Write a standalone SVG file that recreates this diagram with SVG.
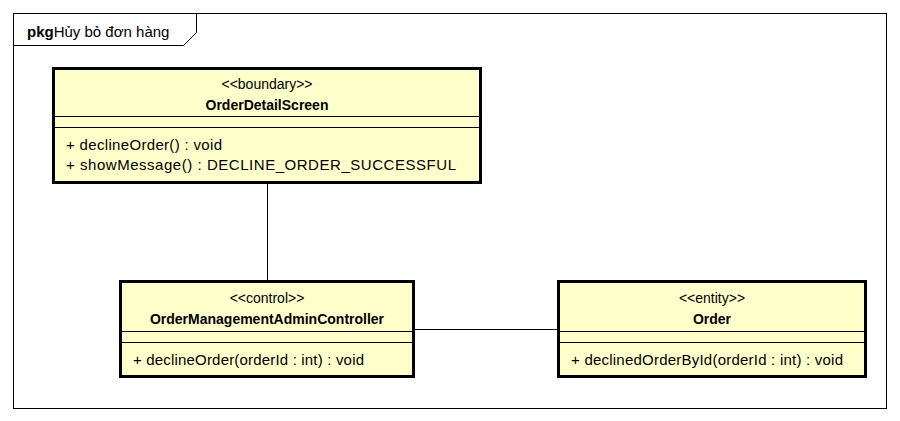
<svg xmlns="http://www.w3.org/2000/svg" width="900" height="421" viewBox="0 0 900 421">
<style>
text{font-family:"Liberation Sans",Arial,sans-serif;font-size:14px;fill:#000}
.b{font-weight:bold}
.m{text-anchor:middle}
.op{font-size:15px}
.box{fill:#FFFFCC;stroke:#000;stroke-width:3}
.sep{stroke:#000;stroke-width:1}
.ln{stroke:#000;stroke-width:1;fill:none}
</style>
<rect x="0" y="0" width="900" height="421" fill="#fff"/>
<g id="frame">
<rect x="13.5" y="13.5" width="873" height="395" fill="none" stroke="#000" stroke-width="1"/>
<path d="M13.5,45.5 H183.5 L196.5,32.5 V13.5" class="ln"/>
<text x="27" y="37" style="font-size:15px"><tspan class="b">pkg</tspan><tspan>Hủy bỏ đơn hàng</tspan></text>
</g>
<g id="connectors">
<line x1="267.5" y1="183" x2="267.5" y2="281" class="ln"/>
<line x1="414" y1="329.5" x2="558" y2="329.5" class="ln"/>
</g>
<g id="OrderDetailScreen">
<rect x="53.5" y="68.5" width="427" height="114" class="box"/>
<text x="267" y="89" class="m">&lt;&lt;boundary&gt;&gt;</text>
<text x="267" y="110" class="m b">OrderDetailScreen</text>
<line x1="53" y1="116.5" x2="481" y2="116.5" class="sep"/>
<line x1="53" y1="127.5" x2="481" y2="127.5" class="sep"/>
<text x="66" y="150" class="op" textLength="156" lengthAdjust="spacing">+ declineOrder() : void</text>
<text x="66" y="170" class="op" textLength="390" lengthAdjust="spacing">+ showMessage() : DECLINE_ORDER_SUCCESSFUL</text>
</g>
<g id="OrderManagementAdminController">
<rect x="120.5" y="281.5" width="293" height="95" class="box"/>
<text x="267" y="303" class="m">&lt;&lt;control&gt;&gt;</text>
<text x="267" y="324" class="m b">OrderManagementAdminController</text>
<line x1="120" y1="331.5" x2="414" y2="331.5" class="sep"/>
<line x1="120" y1="342.5" x2="414" y2="342.5" class="sep"/>
<text x="133" y="365" class="op" textLength="231" lengthAdjust="spacing">+ declineOrder(orderId : int) : void</text>
</g>
<g id="Order">
<rect x="558.5" y="281.5" width="307" height="95" class="box"/>
<text x="712" y="303" class="m">&lt;&lt;entity&gt;&gt;</text>
<text x="712" y="324" class="m b">Order</text>
<line x1="558" y1="331.5" x2="866" y2="331.5" class="sep"/>
<line x1="558" y1="342.5" x2="866" y2="342.5" class="sep"/>
<text x="571" y="365" class="op" textLength="272" lengthAdjust="spacing">+ declinedOrderById(orderId : int) : void</text>
</g>
</svg>
